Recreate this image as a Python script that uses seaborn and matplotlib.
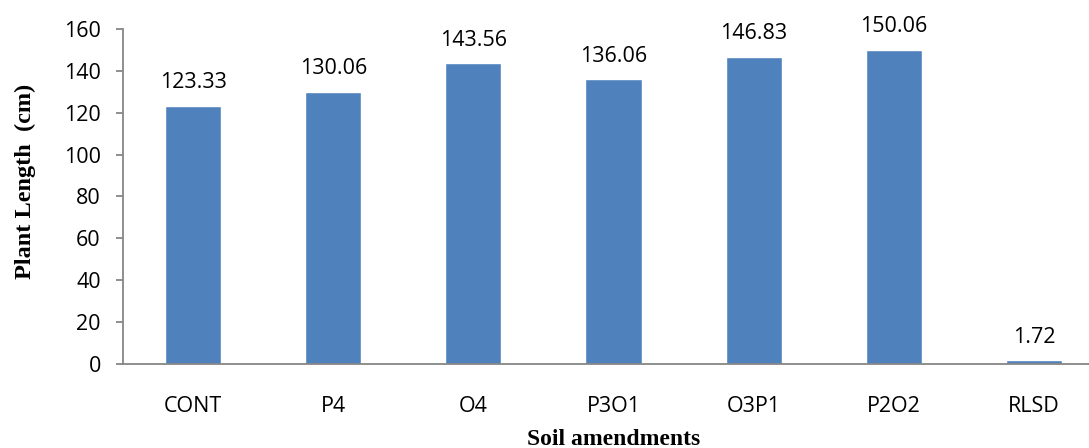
import matplotlib
matplotlib.use("Agg")
import matplotlib.pyplot as plt
import seaborn as sns
import pandas as pd

# Plant length per soil amendment treatment
treatments = ["CONT", "P4", "O4", "P3O1", "O3P1", "P2O2", "RLSD"]
plant_length = [123.33, 130.06, 143.56, 136.06, 146.83, 150.06, 1.72]
y_ticks = [0, 20, 40, 60, 80, 100, 120, 140, 160]

df = pd.DataFrame({"treatment": treatments, "length": plant_length})

sns.set_theme(style="white")
plt.rcParams["font.family"] = ["Open Sans", "DejaVu Sans"]

W, H = 1089, 448
fig = plt.figure(figsize=(W / 100, H / 100), dpi=100)
ax = fig.add_axes([123 / W, (H - 364) / H, 1 - 123 / W, (364 - 29) / H])

bar_color = "#4F81BD"
sns.barplot(data=df, x="treatment", y="length", color=bar_color, width=0.4,
            saturation=1, ax=ax)

ax.set_ylim(0, 160)
ax.set_xlim(-0.5, 6.5 - 15 / 140)
ax.set_yticks(y_ticks)
ax.set_yticklabels([str(v) for v in y_ticks])

label_size = 15.5
for bar, val in zip(ax.patches, plant_length):
    ax.annotate(f"{val:.2f}", (bar.get_x() + bar.get_width() / 2, bar.get_height()),
                xytext=(0, 9), textcoords="offset points", ha="center", va="bottom",
                fontsize=label_size, color="black")

spine_color = "#868686"
for side in ["top", "right"]:
    ax.spines[side].set_visible(False)
for side in ["left", "bottom"]:
    ax.spines[side].set_color(spine_color)
    ax.spines[side].set_linewidth(1.3)

ax.tick_params(axis="y", which="major", left=True, length=5, width=1.3,
               color=spine_color, pad=11, labelsize=label_size, labelcolor="black")
ax.tick_params(axis="x", which="major", bottom=False, pad=17, labelsize=label_size,
               labelcolor="black")

ax.set_xlabel("")
ax.set_ylabel("")

serif = ["Liberation Serif", "DejaVu Serif"]
fig.text(614 / W, 3 / H, "Soil amendments", family=serif, fontweight="bold",
         fontsize=17, color="black", ha="center", va="baseline")
fig.text(25 / W, (H - 181) / H, "Plant Length  (cm)", family=serif, fontweight="bold",
         fontsize=17.5, color="black", ha="center", va="center", rotation=90)

fig.savefig("out.png", dpi=100)
